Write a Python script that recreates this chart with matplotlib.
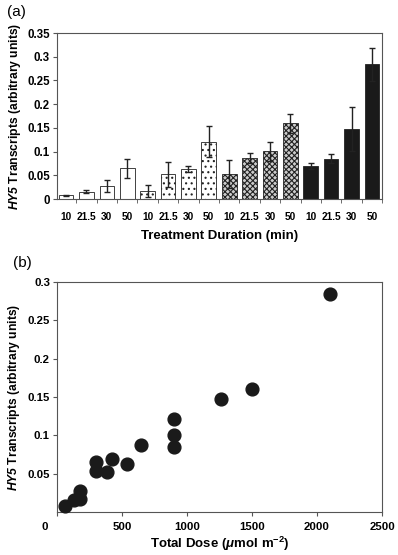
import matplotlib
matplotlib.use("Agg")
import matplotlib.pyplot as plt
import matplotlib.transforms as mtransforms
from matplotlib.ticker import FixedLocator, FuncFormatter

plt.rcParams['font.family'] = ['Liberation Sans', 'DejaVu Sans']
plt.rcParams['mathtext.fontset'] = 'custom'
plt.rcParams['mathtext.rm'] = 'Liberation Sans:bold'
plt.rcParams['mathtext.bf'] = 'Liberation Sans:bold'
plt.rcParams['mathtext.it'] = 'Liberation Sans:italic:bold'
plt.rcParams['mathtext.bfit'] = 'Liberation Sans:italic:bold'
plt.rcParams['hatch.linewidth'] = 0.8

# ---- data ----
durations = ["10", "21.5", "30", "50"]
groups = ["white", "dotted", "hatched", "black"]
bar_values = [0.008, 0.015, 0.028, 0.065,
              0.017, 0.052, 0.063, 0.121,
              0.053, 0.087, 0.101, 0.160,
              0.069, 0.085, 0.148, 0.284]
bar_errors = [0.001, 0.003, 0.013, 0.020,
              0.013, 0.027, 0.007, 0.032,
              0.030, 0.010, 0.020, 0.020,
              0.006, 0.009, 0.047, 0.035]
dose = [60, 129, 180, 300,
        180, 387, 540, 900,
        300, 645, 900, 1500,
        420, 903, 1260, 2100]

fig = plt.figure(figsize=(3.98, 5.55), dpi=100)

frame_col = '#555555'

# ---- panel (a) ----
ax1 = fig.add_axes([0.143, 0.6414, 0.817, 0.2991])
styles = {
    "white": dict(facecolor='white', hatch=None),
    "dotted": dict(facecolor='white', hatch='...'),
    "hatched": dict(facecolor='#cccccc', hatch='xxxxxx'),
    "black": dict(facecolor='#1a1a1a', hatch=None),
}
xs = list(range(len(bar_values)))
for i, (v, e) in enumerate(zip(bar_values, bar_errors)):
    st = styles[groups[i // 4]]
    ax1.bar(i, v, width=0.72, color=st['facecolor'], edgecolor='#222222',
            linewidth=0.6, hatch=st['hatch'], zorder=2)
ax1.errorbar(xs, bar_values, yerr=bar_errors, fmt='none', ecolor='#222222',
             elinewidth=1.0, capsize=2.5, capthick=1.0, zorder=3)
ax1.set_xlim(-0.45, 15.5)
ax1.set_ylim(0, 0.35)
ax1.set_yticks([0, 0.05, 0.1, 0.15, 0.2, 0.25, 0.3, 0.35])
ax1.yaxis.set_major_formatter(FuncFormatter(lambda v, p: f"{v:g}"))
ax1.set_xticks(xs)
ax1.set_xticklabels(durations * 4)
ax1.xaxis.set_minor_locator(FixedLocator([i + 0.5 for i in range(-1, 16)]))
ax1.tick_params(axis='x', which='major', length=0, pad=9, labelsize=7.3)
ax1.tick_params(axis='x', which='minor', length=3, direction='out', color=frame_col)
ax1.tick_params(axis='y', length=3, direction='out', color=frame_col, labelsize=8.3, pad=2)
for lab in ax1.get_xticklabels() + ax1.get_yticklabels():
    lab.set_fontweight('bold')
for sp in ax1.spines.values():
    sp.set_color(frame_col)
    sp.set_linewidth(0.8)
ax1.set_xlabel("Treatment Duration (min)", fontsize=9.5, fontweight='bold', labelpad=6)
ax1.set_ylabel(r"$\mathbfit{HY5}$ Transcripts (arbitrary units)", fontsize=8.7,
               fontweight='bold', labelpad=3)
fig.text(0.018, 0.978, "(a)", fontsize=11, va='center', ha='left')

# ---- panel (b) ----
ax2 = fig.add_axes([0.143, 0.0775, 0.817, 0.4144])
ax2.plot(dose, bar_values, 'o', color='#1a1a1a', markersize=9.2, zorder=3, clip_on=False)
ax2.set_xlim(0, 2500)
ax2.set_ylim(0, 0.3)
ax2.set_xticks([0, 500, 1000, 1500, 2000, 2500])
ax2.set_yticks([0.05, 0.1, 0.15, 0.2, 0.25, 0.3])
ax2.yaxis.set_major_formatter(FuncFormatter(lambda v, p: f"{v:g}"))
ax2.tick_params(axis='both', length=3, direction='out', color=frame_col, labelsize=8.2)
ax2.tick_params(axis='y', pad=2)
ax2.tick_params(axis='x', pad=4)
for lab in ax2.get_xticklabels() + ax2.get_yticklabels():
    lab.set_fontweight('bold')
# the "0" label sits slightly left of the axis in the reference
zero_lab = ax2.get_xticklabels()[0]
zero_lab.set_transform(zero_lab.get_transform() +
                       mtransforms.ScaledTranslation(-12 / 100, 0, fig.dpi_scale_trans))
for sp in ax2.spines.values():
    sp.set_color(frame_col)
    sp.set_linewidth(0.8)
ax2.set_xlabel(r"Total Dose ($\mathbfit{\mu}$mol m$^{\mathbf{-2}}$)", fontsize=9.5,
               fontweight='bold', labelpad=2)
ax2.set_ylabel(r"$\mathbfit{HY5}$ Transcripts (arbitrary units)", fontsize=8.7,
               fontweight='bold', labelpad=4)
fig.text(0.033, 0.527, "(b)", fontsize=11, va='center', ha='left')

fig.savefig("out.png", dpi=100)
